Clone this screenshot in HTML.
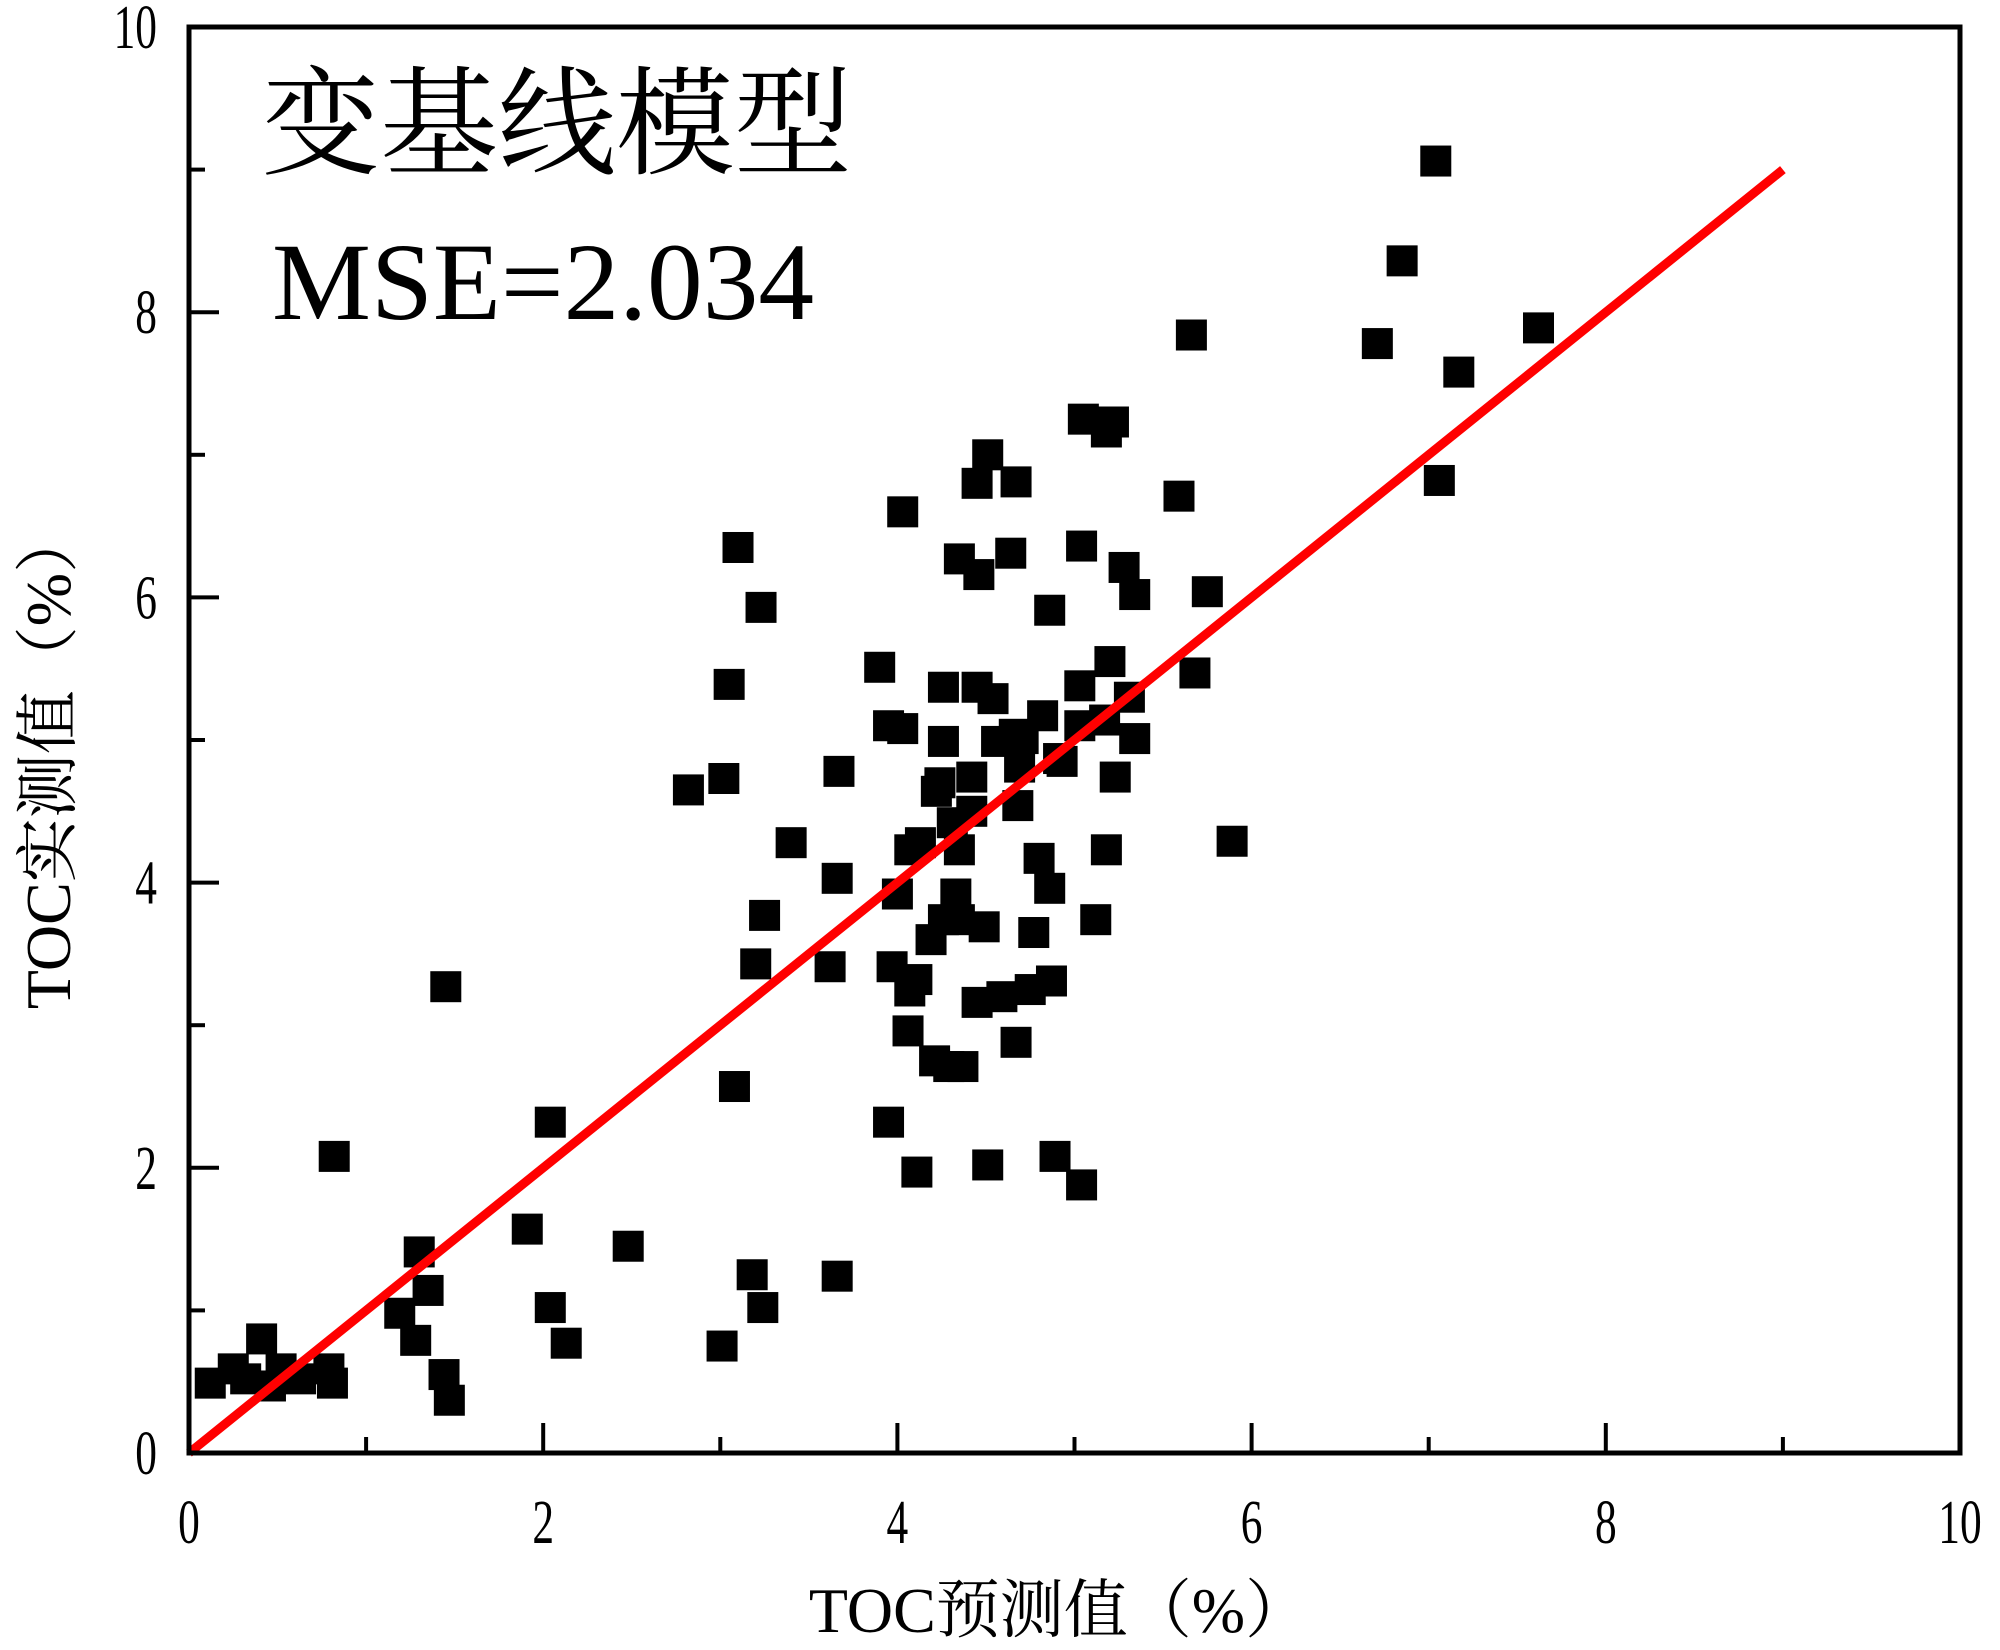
<!DOCTYPE html>
<html><head><meta charset="utf-8"><style>html,body{margin:0;padding:0;background:#fff}svg{display:block}</style></head>
<body>
<svg id="chart" width="2000" height="1650" viewBox="0 0 2000 1650" xmlns="http://www.w3.org/2000/svg">
<g id="marks"></g>
<g id="axes"></g>
<text x="262" y="165" font-family="'Noto Serif CJK SC', serif" font-size="118" fill="#000">变基线模型</text>
<text x="272" y="319" font-family="'Liberation Serif', serif" font-size="110" textLength="542" lengthAdjust="spacingAndGlyphs" fill="#000">MSE=2.034</text>
<text x="1059" y="1632" text-anchor="middle" font-family="'Liberation Serif','Noto Serif CJK SC', serif" font-size="64" fill="#000">TOC预测值（%）</text>
<text transform="translate(70,759) rotate(-90)" text-anchor="middle" font-family="'Liberation Serif','Noto Serif CJK SC', serif" font-size="64" fill="#000">TOC实测值（%）</text>
</svg>
<script>
const xVals=[0.12,0.25,0.32,0.41,0.46,0.52,0.63,0.79,0.81,0.82,1.19,1.28,1.30,1.35,1.44,1.47,1.45,1.91,2.04,2.04,2.13,2.48,2.82,3.01,3.02,3.05,3.08,3.10,3.18,3.20,3.23,3.24,3.25,3.40,3.62,3.66,3.66,3.67,3.90,3.95,3.95,3.97,4.00,4.03,4.03,4.06,4.07,4.07,4.11,4.11,4.13,4.19,4.21,4.22,4.24,4.26,4.26,4.26,4.29,4.31,4.33,4.35,4.35,4.37,4.35,4.42,4.42,4.45,4.45,4.45,4.46,4.49,4.51,4.51,4.54,4.56,4.59,4.64,4.66,4.67,4.67,4.68,4.69,4.71,4.75,4.77,4.80,4.82,4.86,4.86,4.87,4.89,4.91,4.93,5.03,5.03,5.04,5.04,5.05,5.12,5.17,5.18,5.20,5.18,5.22,5.23,5.28,5.31,5.34,5.34,5.59,5.66,5.68,5.75,5.89,6.71,6.85,7.04,7.06,7.17,7.62];
const yVals=[0.49,0.59,0.52,0.80,0.47,0.59,0.52,0.59,0.49,2.08,0.98,0.79,1.41,1.14,0.55,0.37,3.27,1.57,2.32,1.02,0.77,1.45,4.65,0.75,4.73,5.39,2.57,6.35,1.25,3.43,5.93,1.02,3.77,4.28,3.41,4.03,1.24,4.78,5.51,2.32,5.10,3.41,3.92,6.60,5.08,2.96,3.24,4.23,3.32,1.97,4.28,3.60,2.75,4.64,4.70,4.99,5.37,3.74,2.71,4.42,3.92,6.27,4.23,2.71,3.74,4.74,4.50,3.16,6.80,5.37,6.16,3.69,2.02,7.00,5.29,4.99,3.20,6.31,5.04,6.81,2.88,4.54,4.81,5.01,3.25,3.65,4.17,5.17,5.91,3.96,3.31,2.08,4.87,4.85,5.38,5.10,6.36,1.88,7.25,3.74,5.14,4.23,5.55,7.16,7.23,4.74,6.21,5.30,5.01,6.02,6.71,7.84,5.47,6.04,4.29,7.78,8.36,9.06,6.82,7.58,7.89];
const xTicks=["0","2","4","6","8","10"];
const yTicks=["0","2","4","6","8","10"];
const fitLine=[0,9];
const NS="http://www.w3.org/2000/svg";
const L=189,R=1960,T=27,B=1453;
const sx=v=>L+(R-L)*v/10, sy=v=>B-(B-T)*v/10;
function mk(t,a,p){const e=document.createElementNS(NS,t);for(const k in a)e.setAttribute(k,a[k]);p.appendChild(e);return e;}
const marks=document.getElementById('marks'), axes=document.getElementById('axes');
const S=31;
xVals.forEach((x,i)=>{const r=mk('rect',{x:sx(x)-S/2,y:sy(yVals[i])-S/2,width:S,height:S,fill:'#000'},marks);

});
const fl=mk('line',{x1:sx(fitLine[0]),y1:sy(fitLine[0]),x2:sx(fitLine[1]),y2:sy(fitLine[1]),stroke:'#f00','stroke-width':9},marks);


const fr=mk('rect',{x:L,y:T,width:R-L,height:B-T,fill:'none',stroke:'#000','stroke-width':5},axes);


for(let k=0;k<=10;k++){const major=k%2===0,len=major?30:16;
const tx=mk('line',{x1:sx(k),y1:B,x2:sx(k),y2:B-len,stroke:'#000','stroke-width':4},axes);


const ty=mk('line',{x1:L,y1:sy(k),x2:L+len,y2:sy(k),stroke:'#000','stroke-width':4},axes);

}
xTicks.forEach((t,i)=>{const v=+t;const e=mk('text',{x:sx(v),y:1543,'text-anchor':'middle','font-family':"'Liberation Serif',serif",'font-size':62,transform:`translate(${sx(v)},0) scale(0.7,1) translate(${-sx(v)},0)`},axes);e.textContent=t;

});
yTicks.forEach((t,i)=>{const v=+t;const e=mk('text',{x:157,y:sy(v)+21,'text-anchor':'end','font-family':"'Liberation Serif',serif",'font-size':62,transform:`translate(157,0) scale(0.7,1) translate(-157,0)`},axes);e.textContent=t;

});
</script>
</body></html>
